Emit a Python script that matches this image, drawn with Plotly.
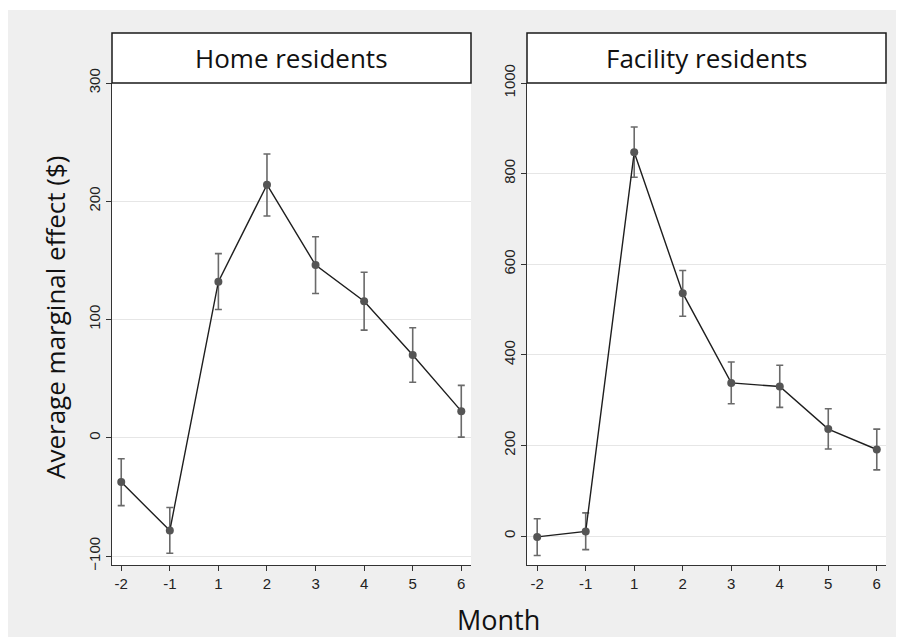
import plotly.graph_objects as go

months = ["-2", "-1", "1", "2", "3", "4", "5", "6"]

home_est = [-37.5, -78.5, 132, 214, 146, 115.5, 70, 22.5]
home_hi = [-17.8, -59, 155.7, 240, 170, 140, 93, 44.3]
home_lo = [-57.4, -97.7, 108.5, 187.5, 122, 91, 47, 0.5]

fac_est = [-2, 10, 847, 536, 338, 330, 236, 191]
fac_hi = [38, 51, 903, 586, 384, 377, 281, 236]
fac_lo = [-43, -30, 792, 485, 292, 284, 192, 146]

panel_titles = ["Home residents", "Facility residents"]
home_ticks = [-100, 0, 100, 200, 300]
fac_ticks = [0, 200, 400, 600, 800, 1000]

# page is offset by the 8px body margin
OFF = 8
FW, FH = 888, 629
def px(x): return (x - OFF) / FW
def py(y): return 1 - (y - OFF) / FH

fig = go.Figure()

def add_panel(est, hi, lo, xa, ya):
    fig.add_trace(go.Scatter(
        x=months, y=est, mode="lines+markers",
        xaxis=xa, yaxis=ya,
        line=dict(color="#1e1e1e", width=1.4),
        marker=dict(color="#555555", size=8),
        error_y=dict(type="data", symmetric=False,
                     array=[h - e for h, e in zip(hi, est)],
                     arrayminus=[e - l for e, l in zip(est, lo)],
                     color="#6a6a6a", thickness=1.6, width=3.5),
        showlegend=False,
    ))

add_panel(home_est, home_hi, home_lo, "x", "y")
add_panel(fac_est, fac_hi, fac_lo, "x2", "y2")

ydom = [py(565), py(83)]
axis_common = dict(
    showline=True, linecolor="#333333", linewidth=1.3,
    ticks="outside", ticklen=5, tickcolor="#333333", tickwidth=1.2,
    tickfont=dict(family="Liberation Sans, Arial", size=15, color="#222222"),
    zeroline=False, automargin=False,
)
fig.update_layout(
    width=FW, height=FH,
    margin=dict(l=0, r=0, t=0, b=0, pad=0),
    paper_bgcolor="#efefef",
    plot_bgcolor="#ffffff",
    xaxis=dict(domain=[px(112), px(471)], type="category", range=[-0.19, 7.2],
               showgrid=False, anchor="y", **axis_common),
    yaxis=dict(domain=ydom, range=[-107.6, 300], tickvals=home_ticks,
               tickangle=-90, showgrid=True, gridcolor="#e6e6e6", gridwidth=1,
               anchor="x", **axis_common),
    xaxis2=dict(domain=[px(527), px(886)], type="category", range=[-0.21, 7.19],
                showgrid=False, anchor="y2", **axis_common),
    yaxis2=dict(domain=ydom, range=[-64, 1000], tickvals=fac_ticks,
                tickangle=-90, showgrid=True, gridcolor="#e6e6e6", gridwidth=1,
                anchor="x2", **axis_common),
)

shapes = []
# thin white strip at the top of the page
shapes.append(dict(type="rect", xref="paper", yref="paper", x0=0, x1=1, y0=py(10), y1=1,
                   fillcolor="white", line=dict(width=0), layer="below"))
annotations = []
for xr, title in zip(["x domain", "x2 domain"], panel_titles):
    shapes.append(dict(type="rect", xref=xr, yref="paper", x0=0, x1=1,
                       y0=py(83), y1=py(33), fillcolor="white",
                       line=dict(color="#1a1a1a", width=1.5)))
    annotations.append(dict(xref=xr, yref="paper", x=0.5, y=py(58), text=title,
                            showarrow=False, xanchor="center", yanchor="middle",
                            font=dict(family="Open Sans, Noto Sans", size=26, color="#111111")))

annotations.append(dict(xref="paper", yref="paper", x=px(498), y=py(619), text="Month",
                        showarrow=False, xanchor="center", yanchor="middle",
                        font=dict(family="Open Sans, Noto Sans", size=27, color="#111111")))
annotations.append(dict(xref="paper", yref="paper", x=px(55), y=py(318),
                        text="Average marginal effect ($)", textangle=-90,
                        showarrow=False, xanchor="center", yanchor="middle",
                        font=dict(family="Open Sans, Noto Sans", size=26, color="#111111")))

fig.update_layout(shapes=shapes, annotations=annotations)
fig.write_html("out.html")
